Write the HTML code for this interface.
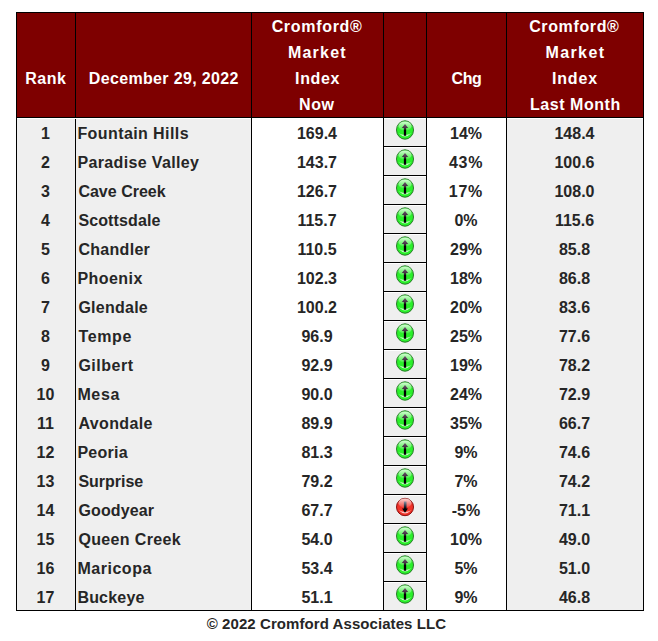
<!DOCTYPE html>
<html><head><meta charset="utf-8"><style>
html,body{margin:0;padding:0;background:#fff;width:658px;height:641px;overflow:hidden;position:relative}
div,p,svg{position:absolute;margin:0;padding:0}
p{font-family:"Liberation Sans",sans-serif;font-weight:bold;white-space:nowrap}
</style></head><body>
<svg width="0" height="0" style="position:absolute"><defs>
<linearGradient id="ag" x1="0" y1="0" x2="0" y2="1"><stop offset="0" stop-color="#705070"/><stop offset="0.4" stop-color="#3a2a3a"/><stop offset="0.55" stop-color="#000"/></linearGradient>
<linearGradient id="ar" x1="0" y1="0" x2="0" y2="1"><stop offset="0" stop-color="#8a96a8"/><stop offset="0.45" stop-color="#202838"/><stop offset="0.65" stop-color="#000"/></linearGradient>
<linearGradient id="gl" x1="0" y1="0" x2="0" y2="1"><stop offset="0" stop-color="#fff" stop-opacity=".8"/><stop offset="1" stop-color="#fff" stop-opacity=".1"/></linearGradient>
<g id="up"><ellipse cx="10" cy="10" rx="8.5" ry="9.2" fill="#2af02a" stroke="#2a7a2a" stroke-width="1"/>
<ellipse cx="10" cy="6" rx="6.6" ry="4.6" fill="url(#gl)"/>
<path d="M3.8 13.2 Q10 19.6 16.2 13.2 Q10 16.6 3.8 13.2Z" fill="#e0ffe0" opacity=".85"/>
<path d="M10 4.0 L13.2 8.0 L11.15 8.0 L11.15 15.8 L8.85 15.8 L8.85 8.0 L6.8 8.0 Z" fill="url(#ag)"/></g>
<g id="dn"><ellipse cx="10" cy="10" rx="8.5" ry="8.7" fill="#f03228" stroke="#8a1010" stroke-width="1"/>
<ellipse cx="10" cy="6" rx="6.6" ry="4.6" fill="url(#gl)"/>
<path d="M3.8 13.2 Q10 19.6 16.2 13.2 Q10 16.6 3.8 13.2Z" fill="#ffe0e0" opacity=".85"/>
<path d="M10 15.7 L13 11.6 L11.5 11.6 L11.5 4.5 L8.9 4.5 L8.9 11.6 L7 11.6 Z" fill="url(#ar)"/></g>
</defs></svg>

<div style="left:16px;top:12px;width:628px;height:106px;background:#7e0000"></div>
<div style="left:16px;top:118px;width:628px;height:492px;background:#efefef"></div>
<div style="left:252px;top:118px;width:131px;height:492px;background:#fff"></div>
<div style="left:427px;top:118px;width:79px;height:492px;background:#fff"></div>
<div style="left:16px;top:12px;width:628px;height:1px;background:#000"></div>
<div style="left:16px;top:117px;width:628px;height:1px;background:#000"></div>
<div style="left:16px;top:610px;width:628px;height:1px;background:#000"></div>
<div style="left:16px;top:12px;width:1px;height:599px;background:#000"></div>
<div style="left:75px;top:12px;width:1px;height:599px;background:#000"></div>
<div style="left:251px;top:12px;width:1px;height:599px;background:#000"></div>
<div style="left:383px;top:12px;width:1px;height:599px;background:#000"></div>
<div style="left:426px;top:12px;width:1px;height:599px;background:#000"></div>
<div style="left:506px;top:12px;width:1px;height:599px;background:#000"></div>
<div style="left:643px;top:12px;width:1px;height:599px;background:#000"></div>
<div style="left:17px;top:118px;width:234px;height:1px;background:#fff"></div>
<div style="left:507px;top:118px;width:136px;height:1px;background:#fff"></div>
<div style="left:384px;top:118px;width:42px;height:1px;background:#fff"></div>
<div style="left:384px;top:147px;width:42px;height:1px;background:#fff"></div>
<div style="left:384px;top:176px;width:42px;height:1px;background:#fff"></div>
<div style="left:384px;top:205px;width:42px;height:1px;background:#fff"></div>
<div style="left:384px;top:234px;width:42px;height:1px;background:#fff"></div>
<div style="left:384px;top:263px;width:42px;height:1px;background:#fff"></div>
<div style="left:384px;top:292px;width:42px;height:1px;background:#fff"></div>
<div style="left:384px;top:321px;width:42px;height:1px;background:#fff"></div>
<div style="left:384px;top:350px;width:42px;height:1px;background:#fff"></div>
<div style="left:384px;top:379px;width:42px;height:1px;background:#fff"></div>
<div style="left:384px;top:408px;width:42px;height:1px;background:#fff"></div>
<div style="left:384px;top:437px;width:42px;height:1px;background:#fff"></div>
<div style="left:384px;top:466px;width:42px;height:1px;background:#fff"></div>
<div style="left:384px;top:495px;width:42px;height:1px;background:#fff"></div>
<div style="left:384px;top:524px;width:42px;height:1px;background:#fff"></div>
<div style="left:384px;top:553px;width:42px;height:1px;background:#fff"></div>
<div style="left:384px;top:582px;width:42px;height:1px;background:#fff"></div>
<div style="left:383px;top:146px;width:44px;height:1px;background:#000"></div>
<div style="left:383px;top:175px;width:44px;height:1px;background:#000"></div>
<div style="left:383px;top:204px;width:44px;height:1px;background:#000"></div>
<div style="left:383px;top:233px;width:44px;height:1px;background:#000"></div>
<div style="left:383px;top:262px;width:44px;height:1px;background:#000"></div>
<div style="left:383px;top:291px;width:44px;height:1px;background:#000"></div>
<div style="left:383px;top:320px;width:44px;height:1px;background:#000"></div>
<div style="left:383px;top:349px;width:44px;height:1px;background:#000"></div>
<div style="left:383px;top:378px;width:44px;height:1px;background:#000"></div>
<div style="left:383px;top:407px;width:44px;height:1px;background:#000"></div>
<div style="left:383px;top:436px;width:44px;height:1px;background:#000"></div>
<div style="left:383px;top:465px;width:44px;height:1px;background:#000"></div>
<div style="left:383px;top:494px;width:44px;height:1px;background:#000"></div>
<div style="left:383px;top:523px;width:44px;height:1px;background:#000"></div>
<div style="left:383px;top:552px;width:44px;height:1px;background:#000"></div>
<div style="left:383px;top:581px;width:44px;height:1px;background:#000"></div>
<p style="top:71.46px;font-size:16px;line-height:16px;color:#fff;letter-spacing:0.533px;left:-154.50px;width:400px;text-align:center;text-indent:0.533px;">Rank</p>
<p style="top:71.46px;font-size:16px;line-height:16px;color:#fff;letter-spacing:0.338px;left:-36.40px;width:400px;text-align:center;text-indent:0.338px;">December 29, 2022</p>
<p style="top:19.46px;font-size:16px;line-height:16px;color:#fff;letter-spacing:0.690px;left:116.74px;width:400px;text-align:center;text-indent:0.690px;">Cromford®</p>
<p style="top:45.46px;font-size:16px;line-height:16px;color:#fff;letter-spacing:1.210px;left:116.78px;width:400px;text-align:center;text-indent:1.210px;">Market</p>
<p style="top:71.46px;font-size:16px;line-height:16px;color:#fff;letter-spacing:0.610px;left:117.23px;width:400px;text-align:center;text-indent:0.610px;">Index</p>
<p style="top:97.46px;font-size:16px;line-height:16px;color:#fff;letter-spacing:0.600px;left:116.60px;width:400px;text-align:center;text-indent:0.600px;">Now</p>
<p style="top:71.46px;font-size:16px;line-height:16px;color:#fff;letter-spacing:-0.450px;left:266.65px;width:400px;text-align:center;text-indent:-0.450px;">Chg</p>
<p style="top:19.46px;font-size:16px;line-height:16px;color:#fff;letter-spacing:0.625px;left:374.00px;width:400px;text-align:center;text-indent:0.625px;">Cromford®</p>
<p style="top:45.46px;font-size:16px;line-height:16px;color:#fff;letter-spacing:1.420px;left:374.75px;width:400px;text-align:center;text-indent:1.420px;">Market</p>
<p style="top:71.46px;font-size:16px;line-height:16px;color:#fff;letter-spacing:0.875px;left:374.55px;width:400px;text-align:center;text-indent:0.875px;">Index</p>
<p style="top:97.46px;font-size:16px;line-height:16px;color:#fff;letter-spacing:0.533px;left:375.10px;width:400px;text-align:center;text-indent:0.533px;">Last Month</p>
<p style="top:125.96px;font-size:16px;line-height:16px;color:#262626;left:-154.50px;width:400px;text-align:center;">1</p>
<p style="top:125.96px;font-size:16px;line-height:16px;color:#262626;letter-spacing:0.415px;left:77.40px;">Fountain Hills</p>
<p style="top:125.96px;font-size:16px;line-height:16px;color:#262626;left:117.00px;width:400px;text-align:center;">169.4</p>
<p style="top:125.96px;font-size:16px;line-height:16px;color:#262626;left:266.00px;width:400px;text-align:center;">14%</p>
<p style="top:125.96px;font-size:16px;line-height:16px;color:#262626;left:374.50px;width:400px;text-align:center;">148.4</p>
<p style="top:154.96px;font-size:16px;line-height:16px;color:#262626;left:-154.50px;width:400px;text-align:center;">2</p>
<p style="top:154.96px;font-size:16px;line-height:16px;color:#262626;letter-spacing:0.364px;left:77.40px;">Paradise Valley</p>
<p style="top:154.96px;font-size:16px;line-height:16px;color:#262626;left:117.00px;width:400px;text-align:center;">143.7</p>
<p style="top:154.96px;font-size:16px;line-height:16px;color:#262626;letter-spacing:0.690px;left:265.74px;width:400px;text-align:center;text-indent:0.690px;">43%</p>
<p style="top:154.96px;font-size:16px;line-height:16px;color:#262626;left:374.50px;width:400px;text-align:center;">100.6</p>
<p style="top:183.96px;font-size:16px;line-height:16px;color:#262626;left:-154.50px;width:400px;text-align:center;">3</p>
<p style="top:183.96px;font-size:16px;line-height:16px;color:#262626;letter-spacing:0.011px;left:78.40px;">Cave Creek</p>
<p style="top:183.96px;font-size:16px;line-height:16px;color:#262626;left:117.00px;width:400px;text-align:center;">126.7</p>
<p style="top:183.96px;font-size:16px;line-height:16px;color:#262626;letter-spacing:0.625px;left:265.50px;width:400px;text-align:center;text-indent:0.625px;">17%</p>
<p style="top:183.96px;font-size:16px;line-height:16px;color:#262626;left:374.50px;width:400px;text-align:center;">108.0</p>
<p style="top:212.96px;font-size:16px;line-height:16px;color:#262626;left:-154.50px;width:400px;text-align:center;">4</p>
<p style="top:212.96px;font-size:16px;line-height:16px;color:#262626;letter-spacing:0.122px;left:78.40px;">Scottsdale</p>
<p style="top:212.96px;font-size:16px;line-height:16px;color:#262626;left:117.00px;width:400px;text-align:center;">115.7</p>
<p style="top:212.96px;font-size:16px;line-height:16px;color:#262626;left:266.00px;width:400px;text-align:center;">0%</p>
<p style="top:212.96px;font-size:16px;line-height:16px;color:#262626;left:374.50px;width:400px;text-align:center;">115.6</p>
<p style="top:241.96px;font-size:16px;line-height:16px;color:#262626;left:-154.50px;width:400px;text-align:center;">5</p>
<p style="top:241.96px;font-size:16px;line-height:16px;color:#262626;letter-spacing:0.300px;left:78.40px;">Chandler</p>
<p style="top:241.96px;font-size:16px;line-height:16px;color:#262626;left:117.00px;width:400px;text-align:center;">110.5</p>
<p style="top:241.96px;font-size:16px;line-height:16px;color:#262626;left:266.00px;width:400px;text-align:center;">29%</p>
<p style="top:241.96px;font-size:16px;line-height:16px;color:#262626;left:374.50px;width:400px;text-align:center;">85.8</p>
<p style="top:270.96px;font-size:16px;line-height:16px;color:#262626;left:-154.50px;width:400px;text-align:center;">6</p>
<p style="top:270.96px;font-size:16px;line-height:16px;color:#262626;letter-spacing:0.450px;left:77.40px;">Phoenix</p>
<p style="top:270.96px;font-size:16px;line-height:16px;color:#262626;left:117.00px;width:400px;text-align:center;">102.3</p>
<p style="top:270.96px;font-size:16px;line-height:16px;color:#262626;left:266.00px;width:400px;text-align:center;">18%</p>
<p style="top:270.96px;font-size:16px;line-height:16px;color:#262626;left:374.50px;width:400px;text-align:center;">86.8</p>
<p style="top:299.96px;font-size:16px;line-height:16px;color:#262626;left:-154.50px;width:400px;text-align:center;">7</p>
<p style="top:299.96px;font-size:16px;line-height:16px;color:#262626;letter-spacing:0.257px;left:78.40px;">Glendale</p>
<p style="top:299.96px;font-size:16px;line-height:16px;color:#262626;left:117.00px;width:400px;text-align:center;">100.2</p>
<p style="top:299.96px;font-size:16px;line-height:16px;color:#262626;left:266.00px;width:400px;text-align:center;">20%</p>
<p style="top:299.96px;font-size:16px;line-height:16px;color:#262626;left:374.50px;width:400px;text-align:center;">83.6</p>
<p style="top:328.96px;font-size:16px;line-height:16px;color:#262626;left:-154.50px;width:400px;text-align:center;">8</p>
<p style="top:328.96px;font-size:16px;line-height:16px;color:#262626;letter-spacing:0.650px;left:78.40px;">Tempe</p>
<p style="top:328.96px;font-size:16px;line-height:16px;color:#262626;left:117.00px;width:400px;text-align:center;">96.9</p>
<p style="top:328.96px;font-size:16px;line-height:16px;color:#262626;left:266.00px;width:400px;text-align:center;">25%</p>
<p style="top:328.96px;font-size:16px;line-height:16px;color:#262626;left:374.50px;width:400px;text-align:center;">77.6</p>
<p style="top:357.96px;font-size:16px;line-height:16px;color:#262626;left:-154.50px;width:400px;text-align:center;">9</p>
<p style="top:357.96px;font-size:16px;line-height:16px;color:#262626;letter-spacing:0.517px;left:78.40px;">Gilbert</p>
<p style="top:357.96px;font-size:16px;line-height:16px;color:#262626;left:117.00px;width:400px;text-align:center;">92.9</p>
<p style="top:357.96px;font-size:16px;line-height:16px;color:#262626;left:266.00px;width:400px;text-align:center;">19%</p>
<p style="top:357.96px;font-size:16px;line-height:16px;color:#262626;left:374.50px;width:400px;text-align:center;">78.2</p>
<p style="top:386.96px;font-size:16px;line-height:16px;color:#262626;left:-154.50px;width:400px;text-align:center;">10</p>
<p style="top:386.96px;font-size:16px;line-height:16px;color:#262626;letter-spacing:0.633px;left:77.40px;">Mesa</p>
<p style="top:386.96px;font-size:16px;line-height:16px;color:#262626;left:117.00px;width:400px;text-align:center;">90.0</p>
<p style="top:386.96px;font-size:16px;line-height:16px;color:#262626;left:266.00px;width:400px;text-align:center;">24%</p>
<p style="top:386.96px;font-size:16px;line-height:16px;color:#262626;left:374.50px;width:400px;text-align:center;">72.9</p>
<p style="top:415.96px;font-size:16px;line-height:16px;color:#262626;left:-154.50px;width:400px;text-align:center;">11</p>
<p style="top:415.96px;font-size:16px;line-height:16px;color:#262626;letter-spacing:0.386px;left:78.40px;">Avondale</p>
<p style="top:415.96px;font-size:16px;line-height:16px;color:#262626;left:117.00px;width:400px;text-align:center;">89.9</p>
<p style="top:415.96px;font-size:16px;line-height:16px;color:#262626;left:266.00px;width:400px;text-align:center;">35%</p>
<p style="top:415.96px;font-size:16px;line-height:16px;color:#262626;left:374.50px;width:400px;text-align:center;">66.7</p>
<p style="top:444.96px;font-size:16px;line-height:16px;color:#262626;left:-154.50px;width:400px;text-align:center;">12</p>
<p style="top:444.96px;font-size:16px;line-height:16px;color:#262626;letter-spacing:0.280px;left:77.40px;">Peoria</p>
<p style="top:444.96px;font-size:16px;line-height:16px;color:#262626;left:117.00px;width:400px;text-align:center;">81.3</p>
<p style="top:444.96px;font-size:16px;line-height:16px;color:#262626;left:266.00px;width:400px;text-align:center;">9%</p>
<p style="top:444.96px;font-size:16px;line-height:16px;color:#262626;left:374.50px;width:400px;text-align:center;">74.6</p>
<p style="top:473.96px;font-size:16px;line-height:16px;color:#262626;left:-154.50px;width:400px;text-align:center;">13</p>
<p style="top:473.96px;font-size:16px;line-height:16px;color:#262626;letter-spacing:-0.014px;left:78.40px;">Surprise</p>
<p style="top:473.96px;font-size:16px;line-height:16px;color:#262626;left:117.00px;width:400px;text-align:center;">79.2</p>
<p style="top:473.96px;font-size:16px;line-height:16px;color:#262626;left:266.00px;width:400px;text-align:center;">7%</p>
<p style="top:473.96px;font-size:16px;line-height:16px;color:#262626;left:374.50px;width:400px;text-align:center;">74.2</p>
<p style="top:502.96px;font-size:16px;line-height:16px;color:#262626;left:-154.50px;width:400px;text-align:center;">14</p>
<p style="top:502.96px;font-size:16px;line-height:16px;color:#262626;letter-spacing:0.143px;left:78.40px;">Goodyear</p>
<p style="top:502.96px;font-size:16px;line-height:16px;color:#262626;left:117.00px;width:400px;text-align:center;">67.7</p>
<p style="top:502.96px;font-size:16px;line-height:16px;color:#262626;left:266.00px;width:400px;text-align:center;">-5%</p>
<p style="top:502.96px;font-size:16px;line-height:16px;color:#262626;left:374.50px;width:400px;text-align:center;">71.1</p>
<p style="top:531.96px;font-size:16px;line-height:16px;color:#262626;left:-154.50px;width:400px;text-align:center;">15</p>
<p style="top:531.96px;font-size:16px;line-height:16px;color:#262626;letter-spacing:0.360px;left:78.40px;">Queen Creek</p>
<p style="top:531.96px;font-size:16px;line-height:16px;color:#262626;left:117.00px;width:400px;text-align:center;">54.0</p>
<p style="top:531.96px;font-size:16px;line-height:16px;color:#262626;left:266.00px;width:400px;text-align:center;">10%</p>
<p style="top:531.96px;font-size:16px;line-height:16px;color:#262626;left:374.50px;width:400px;text-align:center;">49.0</p>
<p style="top:560.96px;font-size:16px;line-height:16px;color:#262626;left:-154.50px;width:400px;text-align:center;">16</p>
<p style="top:560.96px;font-size:16px;line-height:16px;color:#262626;letter-spacing:0.529px;left:77.40px;">Maricopa</p>
<p style="top:560.96px;font-size:16px;line-height:16px;color:#262626;left:117.00px;width:400px;text-align:center;">53.4</p>
<p style="top:560.96px;font-size:16px;line-height:16px;color:#262626;left:266.00px;width:400px;text-align:center;">5%</p>
<p style="top:560.96px;font-size:16px;line-height:16px;color:#262626;left:374.50px;width:400px;text-align:center;">51.0</p>
<p style="top:589.96px;font-size:16px;line-height:16px;color:#262626;left:-154.50px;width:400px;text-align:center;">17</p>
<p style="top:589.96px;font-size:16px;line-height:16px;color:#262626;letter-spacing:0.200px;left:77.40px;">Buckeye</p>
<p style="top:589.96px;font-size:16px;line-height:16px;color:#262626;left:117.00px;width:400px;text-align:center;">51.1</p>
<p style="top:589.96px;font-size:16px;line-height:16px;color:#262626;left:266.00px;width:400px;text-align:center;">9%</p>
<p style="top:589.96px;font-size:16px;line-height:16px;color:#262626;left:374.50px;width:400px;text-align:center;">46.8</p>
<p style="top:616.30px;font-size:15px;line-height:15px;color:#262626;letter-spacing:0.069px;left:126.40px;width:400px;text-align:center;text-indent:0.069px;">© 2022 Cromford Associates LLC</p>
<svg style="left:395px;top:119.60px" width="20" height="20" viewBox="0 0 20 20"><use href="#up"/></svg>
<svg style="left:395px;top:148.60px" width="20" height="20" viewBox="0 0 20 20"><use href="#up"/></svg>
<svg style="left:395px;top:177.60px" width="20" height="20" viewBox="0 0 20 20"><use href="#up"/></svg>
<svg style="left:395px;top:206.60px" width="20" height="20" viewBox="0 0 20 20"><use href="#up"/></svg>
<svg style="left:395px;top:235.60px" width="20" height="20" viewBox="0 0 20 20"><use href="#up"/></svg>
<svg style="left:395px;top:264.60px" width="20" height="20" viewBox="0 0 20 20"><use href="#up"/></svg>
<svg style="left:395px;top:293.60px" width="20" height="20" viewBox="0 0 20 20"><use href="#up"/></svg>
<svg style="left:395px;top:322.60px" width="20" height="20" viewBox="0 0 20 20"><use href="#up"/></svg>
<svg style="left:395px;top:351.60px" width="20" height="20" viewBox="0 0 20 20"><use href="#up"/></svg>
<svg style="left:395px;top:380.60px" width="20" height="20" viewBox="0 0 20 20"><use href="#up"/></svg>
<svg style="left:395px;top:409.60px" width="20" height="20" viewBox="0 0 20 20"><use href="#up"/></svg>
<svg style="left:395px;top:438.60px" width="20" height="20" viewBox="0 0 20 20"><use href="#up"/></svg>
<svg style="left:395px;top:467.60px" width="20" height="20" viewBox="0 0 20 20"><use href="#up"/></svg>
<svg style="left:395px;top:496.90px" width="20" height="20" viewBox="0 0 20 20"><use href="#dn"/></svg>
<svg style="left:395px;top:525.60px" width="20" height="20" viewBox="0 0 20 20"><use href="#up"/></svg>
<svg style="left:395px;top:554.60px" width="20" height="20" viewBox="0 0 20 20"><use href="#up"/></svg>
<svg style="left:395px;top:583.60px" width="20" height="20" viewBox="0 0 20 20"><use href="#up"/></svg>
</body></html>
